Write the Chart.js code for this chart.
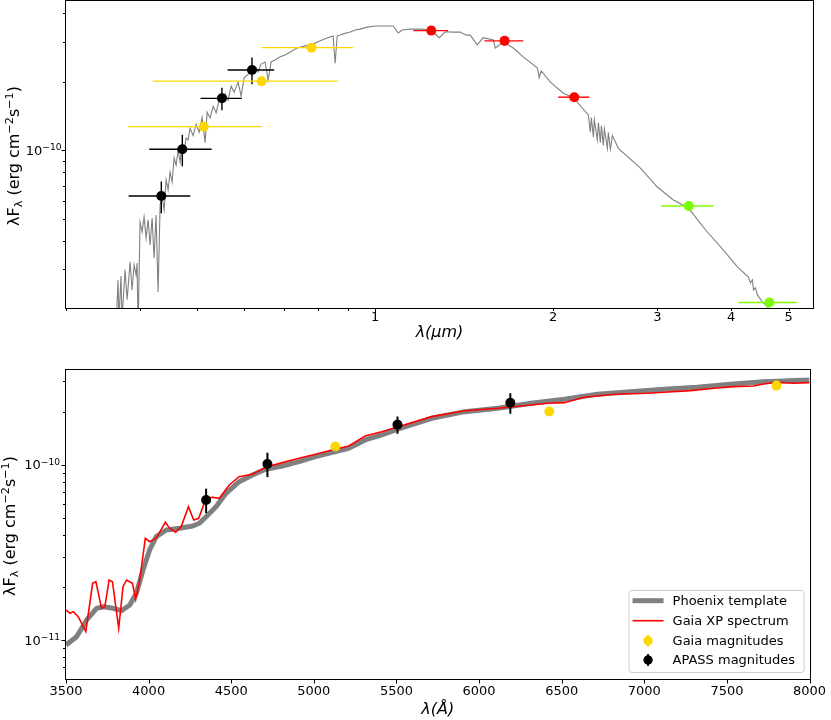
<!DOCTYPE html>
<html>
<head>
<meta charset="utf-8">
<script src="https://cdn.jsdelivr.net/npm/chart.js@4.4.1/dist/chart.umd.min.js"></script>
<style>
html,body{margin:0;padding:0;background:#fff;}
#wrap{position:relative;width:831px;height:720px;}
canvas{position:absolute;left:0;}
#sedChart{top:0;}
#xpChart{top:345px;}
</style>
</head>
<body>
<div id="wrap">
<canvas id="sedChart" width="831" height="345"></canvas>
<canvas id="xpChart" width="831" height="375"></canvas>
</div>
<script>
// ---- top panel: full SED (wavelength in micron) ----
var specWave = [
    0.3645,0.3673,0.3687,0.3716,0.3731,0.3776,0.3806,0.3851,0.3880,0.3911,
    0.3941,0.3957,0.3972,0.4003,0.4035,0.4066,0.4098,0.4130,0.4162,0.4195,
    0.4228,0.4260,0.4294,0.4328,0.4362,0.4396,0.4430,0.4465,0.4499,0.4535,
    0.4570,0.4606,0.4642,0.4678,0.4714,0.4751,0.4788,0.4826,0.4863,0.4921,
    0.4979,0.5037,0.5097,0.5157,0.5197,0.5258,0.5320,0.5383,0.5445,0.5510,
    0.5575,0.5640,0.5707,0.5773,0.5864,0.5933,0.6003,0.6097,0.6193,0.6290,
    0.6339,0.6413,0.6514,0.6591,0.6668,0.6773,0.6907,0.7043,0.7182,0.7379,
    0.7614,0.7854,0.8071,0.8293,0.8489,0.8556,0.8624,0.8828,0.9073,0.9251,
    0.9433,0.9694,1.000,1.040,1.073,1.094,1.111,1.146,1.192,1.244,
    1.283,1.314,1.355,1.392,1.426,1.448,1.488,1.523,1.584,1.596,
    1.647,1.712,1.780,1.880,1.894,1.909,1.978,2.081,2.163,2.293,
    2.311,2.320,2.339,2.347,2.375,2.385,2.403,2.413,2.431,2.441,
    2.470,2.479,2.499,2.518,2.578,2.809,3.000,3.193,3.385,3.645,
    3.880,4.097,4.277,4.311,4.345,4.362,4.395,4.430,4.517,4.606,
    4.696
];
var specFlux = [
    1.63e-11,2.70e-11,1.80e-11,2.81e-11,1.80e-11,2.99e-11,2.21e-11,3.24e-11,2.44e-11,3.14e-11,
    2.84e-11,3.20e-11,1.63e-11,4.85e-11,4.38e-11,5.10e-11,4.12e-11,4.95e-11,3.84e-11,5.05e-11,
    3.37e-11,5.20e-11,2.39e-11,5.76e-11,6.24e-11,5.47e-11,7.41e-11,6.70e-11,8.03e-11,7.26e-11,
    9.25e-11,8.62e-11,1.00e-10,8.89e-11,1.04e-10,9.83e-11,1.13e-10,1.11e-10,1.25e-10,1.16e-10,
    1.30e-10,1.20e-10,1.39e-10,1.08e-10,1.47e-10,1.39e-10,1.56e-10,1.46e-10,1.66e-10,1.70e-10,
    1.77e-10,1.66e-10,1.91e-10,1.80e-10,1.99e-10,1.73e-10,2.08e-10,2.16e-10,2.25e-10,2.30e-10,
    2.21e-10,2.39e-10,2.44e-10,2.03e-10,2.44e-10,2.49e-10,2.57e-10,2.62e-10,2.70e-10,2.81e-10,
    2.87e-10,2.93e-10,3.02e-10,3.11e-10,3.17e-10,2.41e-10,3.17e-10,3.24e-10,3.30e-10,3.37e-10,
    3.40e-10,3.47e-10,3.51e-10,3.51e-10,3.51e-10,3.27e-10,3.37e-10,3.40e-10,3.40e-10,3.37e-10,
    3.12e-10,3.31e-10,3.30e-10,3.30e-10,3.20e-10,3.20e-10,2.90e-10,3.12e-10,3.05e-10,2.81e-10,
    2.99e-10,2.81e-10,2.57e-10,2.30e-10,2.08e-10,2.23e-10,1.99e-10,1.78e-10,1.70e-10,1.43e-10,
    1.20e-10,1.39e-10,1.14e-10,1.36e-10,1.11e-10,1.32e-10,1.08e-10,1.28e-10,1.05e-10,1.24e-10,
    1.02e-10,1.20e-10,1.01e-10,1.16e-10,1.02e-10,8.36e-11,6.90e-11,6.05e-11,5.58e-11,4.38e-11,
    3.65e-11,3.08e-11,2.78e-11,2.62e-11,2.70e-11,2.44e-11,2.49e-11,2.32e-11,2.16e-11,2.06e-11,
    1.90e-11
];

// photometry (APASS / Gaia in Angstrom, 2MASS / WISE in micron)
var apassWave = [4348, 4719, 5506, 6189];
var apassWaveErr = [520, 570, 440, 560];
var apassFlux = [6.3e-11, 1.01e-10, 1.69e-10, 2.25e-10];
var apassFluxErr = [1.0e-11, 1.6e-11, 1.9e-11, 3.0e-11];
var gaiaWave = [5130, 6425, 7800];
var gaiaWaveErr = [1310, 2220, 1380];
var gaiaFlux = [1.27e-10, 2.01e-10, 2.82e-10];
var tmassWave = [1.244, 1.655, 2.171];
var tmassWaveErr = [0.084, 0.125, 0.132];
var tmassFlux = [3.35e-10, 3.02e-10, 1.71e-10];
var wiseWave = [3.39, 4.64];
var wiseWaveErr = [0.344, 0.525];
var wiseFlux = [5.70e-11, 2.15e-11];

// ---- bottom panel: optical zoom (wavelength in Angstrom) ----
var phxWave = [
    3500,3564,3625,3685,3725,3785,3836,3886,3926,3966,
    4006,4046,4107,4187,4267,4307,4348,4408,4468,4548,
    4628,4709,4809,4910,5010,5131,5211,5311,5411,5512,
    5713,5914,6114,6315,6516,6717,6918,7119,7319,7520,
    7721,8000
];
var phxFlux = [
    9.40e-12,1.048e-11,1.305e-11,1.521e-11,1.553e-11,1.521e-11,1.474e-11,1.589e-11,1.852e-11,2.514e-11,
    3.268e-11,3.89e-11,4.247e-11,4.343e-11,4.476e-11,4.638e-11,5.057e-11,5.765e-11,6.872e-11,8.00e-11,
    8.74e-11,9.415e-11,9.83e-11,1.040e-10,1.111e-10,1.186e-10,1.240e-10,1.383e-10,1.476e-10,1.597e-10,
    1.837e-10,2.004e-10,2.096e-10,2.237e-10,2.358e-10,2.517e-10,2.604e-10,2.688e-10,2.759e-10,2.870e-10,
    2.970e-10,3.037e-10
];
var xpWave = [
    3500,3524,3544,3574,3620,3661,3681,3715,3735,3761,
    3781,3819,3845,3866,3902,3922,3946,3980,4006,4046,
    4101,4127,4163,4197,4241,4273,4303,4348,4387,4428,
    4488,4548,4628,4709,4809,4910,5010,5110,5211,5311,
    5411,5512,5713,5914,6114,6315,6416,6516,6637,6817,
    7018,7119,7279,7420,7540,7661,7721,7801,7901,8000
];
var xpFlux = [
    1.488e-11,1.425e-11,1.455e-11,1.363e-11,1.119e-11,2.112e-11,2.157e-11,1.521e-11,1.553e-11,2.205e-11,
    2.157e-11,1.170e-11,2.020e-11,2.205e-11,2.112e-11,1.712e-11,2.205e-11,3.81e-11,3.643e-11,3.81e-11,
    4.70e-11,4.343e-11,4.121e-11,4.435e-11,5.765e-11,4.842e-11,4.951e-11,6.435e-11,6.52e-11,6.435e-11,
    7.66e-11,8.54e-11,8.82e-11,9.665e-11,1.027e-10,1.087e-10,1.146e-10,1.213e-10,1.278e-10,1.457e-10,
    1.541e-10,1.646e-10,1.877e-10,2.030e-10,2.096e-10,2.188e-10,2.237e-10,2.255e-10,2.420e-10,2.517e-10,
    2.550e-10,2.584e-10,2.639e-10,2.723e-10,2.781e-10,2.806e-10,2.881e-10,2.947e-10,2.909e-10,2.931e-10
];

// ticks
var sedXTicks = [0.3,0.4,0.5,0.6,0.7,0.8,0.9,1,2,3,4,5];
var sedXLabels = ['','','','','','','','1','2','3','4','5'];
var sedYTicks = [3e-11,4e-11,5e-11,6e-11,7e-11,8e-11,9e-11,1e-10,2e-10,3e-10,4e-10];
var sedYLabels = ['','','','','','','','10^\u221210','','',''];
var xpXTicks = [3500,4000,4500,5000,5500,6000,6500,7000,7500,8000];
var xpXLabels = ['3500','4000','4500','5000','5500','6000','6500','7000','7500','8000'];
var xpYTicks = [7e-12,8e-12,9e-12,1e-11,2e-11,3e-11,4e-11,5e-11,6e-11,7e-11,8e-11,9e-11,1e-10,2e-10,3e-10];
var xpYLabels = ['','','','10^\u221211','','','','','','','','','10^\u221210','',''];

var legendLabels = ['Phoenix template', 'Gaia XP spectrum', 'Gaia magnitudes', 'APASS magnitudes'];

var FAMILY = "'DejaVu Sans', sans-serif";
var GOLD = '#FFD700', LIME = '#7CFC00', GREY = '#808080';
Chart.defaults.font.family = FAMILY;
Chart.defaults.font.size = 13;
Chart.defaults.color = '#000';

function pts(xs, ys, k) {
    return xs.map(function(v, i){ return {x: v * k, y: ys[i]}; });
}

// text with super/subscripts: runs of [text, 'n'|'sup'|'sub']
function drawRuns(ctx, runs, x, y, size, align){
    var small = size * 0.7;
    function fontOf(k){ return (k === 'n' ? size : small) + 'px ' + FAMILY; }
    var w = 0;
    runs.forEach(function(r){ ctx.font = fontOf(r[1]); w += ctx.measureText(r[0]).width; });
    var cx = align === 'right' ? x - w : (align === 'center' ? x - w / 2 : x);
    ctx.textAlign = 'left';
    ctx.textBaseline = 'alphabetic';
    runs.forEach(function(r){
        ctx.font = fontOf(r[1]);
        var dy = r[1] === 'sup' ? -size * 0.36 : (r[1] === 'sub' ? size * 0.2 : 0);
        ctx.fillText(r[0], cx, y + dy);
        cx += ctx.measureText(r[0]).width;
    });
}

var yTitleRuns = [['\u03bbF','n'],['\u03bb','sub'],[' (erg cm','n'],['\u22122','sup'],['s','n'],['\u22121','sup'],[')','n']];

// frame, tick marks, y tick labels and y title
function decor(opt){
    return {
        id: 'decor',
        afterDatasetsDraw: function(chart){
            var ctx = chart.ctx, a = chart.chartArea;
            var xs = chart.scales.x, ys = chart.scales.y;
            var L = Math.round(a.left) - 0.5, R = Math.round(a.right) + 0.5;
            var T = Math.round(a.top) - 0.5, B = Math.round(a.bottom) + 0.5;
            ctx.save();
            ctx.strokeStyle = '#000';
            ctx.lineWidth = 1;
            ctx.strokeRect(L, T, R - L, B - T);
            ctx.beginPath();
            opt.xTicks.forEach(function(v, i){
                var p = Math.round(xs.getPixelForValue(v)) + 0.5;
                var len = opt.xMajor(v) ? 4 : 2.5;
                ctx.moveTo(p, B); ctx.lineTo(p, B + len);
            });
            opt.yTicks.forEach(function(v, i){
                var p = Math.round(ys.getPixelForValue(v)) + 0.5;
                var len = opt.yLabels[i] ? 4 : 2.5;
                ctx.moveTo(L, p); ctx.lineTo(L - len, p);
            });
            ctx.stroke();
            ctx.fillStyle = '#000';
            opt.yTicks.forEach(function(v, i){
                if (!opt.yLabels[i]) return;
                var parts = opt.yLabels[i].split('^');
                drawRuns(ctx, [[parts[0],'n'],[parts[1],'sup']], opt.yLabelRight, ys.getPixelForValue(v) + 4.7, 13, 'right');
            });
            ctx.translate(opt.yTitleX + 5, (a.top + a.bottom) / 2 + 1.5);
            ctx.rotate(-Math.PI / 2);
            drawRuns(ctx, yTitleRuns, 0, 0, 16, 'center');
            ctx.restore();
        }
    };
}

// error bars, drawn right after the given line dataset
function errBars(afterIndex, groups){
    return {
        id: 'errBars',
        afterDatasetDraw: function(chart, args){
            if (args.index !== afterIndex) return;
            var ctx = chart.ctx, xs = chart.scales.x, ys = chart.scales.y;
            ctx.save();
            groups.forEach(function(g){
                ctx.strokeStyle = g.color;
                ctx.lineWidth = g.lw;
                g.wave.forEach(function(w, i){
                    var px = xs.getPixelForValue(w * g.k), py = ys.getPixelForValue(g.flux[i]);
                    ctx.beginPath();
                    if (g.waveErr) {
                        ctx.moveTo(xs.getPixelForValue((w - g.waveErr[i]) * g.k), py);
                        ctx.lineTo(xs.getPixelForValue((w + g.waveErr[i]) * g.k), py);
                    }
                    if (g.fluxErr) {
                        ctx.moveTo(px, ys.getPixelForValue(g.flux[i] - g.fluxErr[i]));
                        ctx.lineTo(px, ys.getPixelForValue(g.flux[i] + g.fluxErr[i]));
                    }
                    ctx.stroke();
                });
            });
            ctx.restore();
        }
    };
}

var legendBox = {
    id: 'legendBox',
    afterDraw: function(chart){
        var ctx = chart.ctx, a = chart.chartArea;
        var bx = a.right - 181, by = a.bottom - 89;
        ctx.save();
        ctx.beginPath();
        if (ctx.roundRect) ctx.roundRect(bx + 0.5, by + 0.5, 175, 82, 3); else ctx.rect(bx + 0.5, by + 0.5, 175, 82);
        ctx.fillStyle = 'rgba(255,255,255,0.8)';
        ctx.fill();
        ctx.strokeStyle = '#cccccc';
        ctx.lineWidth = 1;
        ctx.stroke();
        var rows = [a.bottom - 78.3, a.bottom - 58.3, a.bottom - 38.3, a.bottom - 19];
        var x0 = a.right - 177, x1 = a.right - 146, xm = a.right - 161.5;
        ctx.lineCap = 'butt';
        ctx.strokeStyle = GREY; ctx.lineWidth = 5;
        ctx.beginPath(); ctx.moveTo(x0, rows[0]); ctx.lineTo(x1, rows[0]); ctx.stroke();
        ctx.strokeStyle = 'red'; ctx.lineWidth = 1.6;
        ctx.beginPath(); ctx.moveTo(x0, rows[1]); ctx.lineTo(x1, rows[1]); ctx.stroke();
        [[GOLD, rows[2]], [ '#000', rows[3]]].forEach(function(m){
            ctx.strokeStyle = m[0]; ctx.fillStyle = m[0]; ctx.lineWidth = 1.8;
            ctx.beginPath(); ctx.moveTo(xm, m[1] - 6); ctx.lineTo(xm, m[1] + 6); ctx.stroke();
            ctx.beginPath(); ctx.arc(xm, m[1], 4.7, 0, Math.PI * 2); ctx.fill();
        });
        ctx.fillStyle = '#000';
        ctx.font = '13px ' + FAMILY;
        ctx.textAlign = 'left';
        ctx.textBaseline = 'middle';
        legendLabels.forEach(function(t, i){ ctx.fillText(t, a.right - 137, rows[i] + 0.5); });
        ctx.restore();
    }
};

function baseOptions(){
    return {
        responsive: false,
        devicePixelRatio: 1,
        animation: false,
        events: [],
        plugins: {legend: {display: false}, tooltip: {enabled: false}, title: {display: false}}
    };
}

// top chart
var sedOpts = baseOptions();
sedOpts.layout = {autoPadding: false, padding: {left: 0, right: 18, top: 1, bottom: 0}};
sedOpts.scales = {
    x: {
        type: 'logarithmic', min: 0.3, max: 5.5, bounds: 'data',
        afterBuildTicks: function(s){ s.ticks = sedXTicks.map(function(v){ return {value: v}; }); },
        afterFit: function(s){ s.height = 37; },
        grid: {display: false, drawTicks: false},
        border: {display: false},
        ticks: {autoSkip: false, maxRotation: 0, padding: 1.6, callback: function(v, i){ return sedXLabels[i]; }},
        title: {display: true, text: '\u03bb(\u03bcm)', font: {size: 16, style: 'italic'}, padding: {top: 0, bottom: 2.4}}
    },
    y: {
        type: 'logarithmic', min: 2.033e-11, max: 4.517e-10, bounds: 'data',
        afterFit: function(s){ s.width = 66; },
        grid: {display: false, drawTicks: false},
        border: {display: false},
        ticks: {display: false}
    }
};
new Chart(document.getElementById('sedChart').getContext('2d'), {
    type: 'scatter',
    data: {datasets: [
        {data: pts(specWave, specFlux, 1), showLine: true, borderColor: GREY, borderWidth: 1.1, pointRadius: 0, tension: 0, order: 5},
        {data: pts(apassWave, apassFlux, 1e-4), backgroundColor: '#000', borderWidth: 0, pointRadius: 5, order: 1},
        {data: pts(gaiaWave, gaiaFlux, 1e-4), backgroundColor: GOLD, borderWidth: 0, pointRadius: 5, order: 2},
        {data: pts(tmassWave, tmassFlux, 1), backgroundColor: 'red', borderWidth: 0, pointRadius: 5, order: 3},
        {data: pts(wiseWave, wiseFlux, 1), backgroundColor: LIME, borderWidth: 0, pointRadius: 5, order: 4}
    ]},
    options: sedOpts,
    plugins: [
        errBars(0, [
            {wave: apassWave, waveErr: apassWaveErr, flux: apassFlux, fluxErr: apassFluxErr, k: 1e-4, color: '#000', lw: 1.4},
            {wave: gaiaWave, waveErr: gaiaWaveErr, flux: gaiaFlux, k: 1e-4, color: GOLD, lw: 1.4},
            {wave: tmassWave, waveErr: tmassWaveErr, flux: tmassFlux, k: 1, color: 'red', lw: 1.4},
            {wave: wiseWave, waveErr: wiseWaveErr, flux: wiseFlux, k: 1, color: LIME, lw: 1.4}
        ]),
        decor({xTicks: sedXTicks, xMajor: function(v){ return v === 1; }, yTicks: sedYTicks, yLabels: sedYLabels, yLabelRight: 61.5, yTitleX: 13.7})
    ]
});

// bottom chart
var xpOpts = baseOptions();
xpOpts.layout = {autoPadding: false, padding: {left: 0, right: 18, top: 25, bottom: 0}};
xpOpts.scales = {
    x: {
        type: 'linear', min: 3500, max: 8000, bounds: 'data',
        afterBuildTicks: function(s){ s.ticks = xpXTicks.map(function(v){ return {value: v}; }); },
        afterFit: function(s){ s.height = 41; },
        grid: {display: false, drawTicks: false},
        border: {display: false},
        ticks: {autoSkip: false, maxRotation: 0, padding: 4.9, callback: function(v, i){ return xpXLabels[i]; }},
        title: {display: true, text: '\u03bb(\u00c5)', font: {size: 16, style: 'italic'}, padding: {top: 0, bottom: 0.4}}
    },
    y: {
        type: 'logarithmic', min: 6.02e-12, max: 3.46e-10, bounds: 'data',
        afterFit: function(s){ s.width = 66; },
        grid: {display: false, drawTicks: false},
        border: {display: false},
        ticks: {display: false}
    }
};
new Chart(document.getElementById('xpChart').getContext('2d'), {
    type: 'scatter',
    data: {datasets: [
        {data: pts(phxWave, phxFlux, 1), showLine: true, borderColor: GREY, borderWidth: 5, borderJoinStyle: 'round', pointRadius: 0, tension: 0, order: 4},
        {data: pts(xpWave, xpFlux, 1), showLine: true, borderColor: 'red', borderWidth: 1.6, pointRadius: 0, tension: 0, order: 3},
        {data: pts(gaiaWave, gaiaFlux, 1), backgroundColor: GOLD, borderWidth: 0, pointRadius: 5, order: 2},
        {data: pts(apassWave, apassFlux, 1), backgroundColor: '#000', borderWidth: 0, pointRadius: 5, order: 1}
    ]},
    options: xpOpts,
    plugins: [
        errBars(1, [
            {wave: apassWave, flux: apassFlux, fluxErr: apassFluxErr, k: 1, color: '#000', lw: 2}
        ]),
        decor({xTicks: xpXTicks, xMajor: function(){ return true; }, yTicks: xpYTicks, yLabels: xpYLabels, yLabelRight: 60, yTitleX: 10}),
        legendBox
    ]
});
</script>
</body>
</html>
